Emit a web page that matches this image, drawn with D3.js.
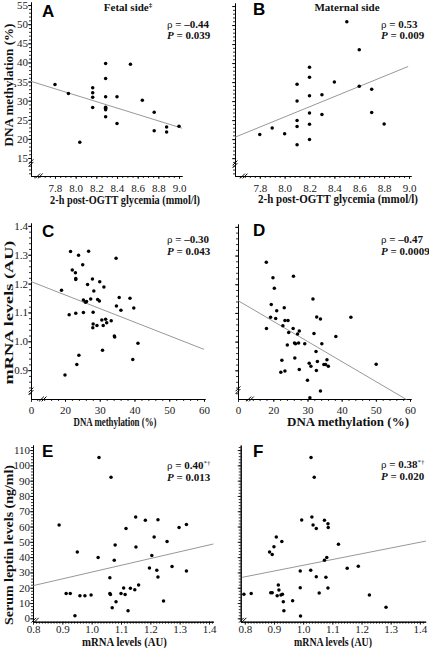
<!DOCTYPE html>
<html><head><meta charset="utf-8">
<script src="https://cdn.jsdelivr.net/npm/d3@7"></script>
<style>
body{margin:0;background:#fff}
svg{display:block}
.domain{stroke:#000;stroke-width:1}
.tick line{stroke:#000;stroke-width:0.8}
.tick text{font-family:'Liberation Serif','Times New Roman',Times,serif;font-size:11px;fill:#1a1a1a}
</style>
</head><body>
<svg id="chart" width="429" height="648"></svg>
<script>
// ---------- DATA ----------
// A: fetal side, 2-h post-OGTT glycemia vs DNA methylation
const glycA = [7.8, 7.93, 8.04, 8.165, 8.165, 8.165, 8.165, 8.29, 8.29, 8.29, 8.29, 8.29, 8.29, 8.29, 8.40, 8.40, 8.53, 8.645, 8.76, 8.76, 8.88, 8.88, 9.0];
const methA = [34.2, 31.9, 19.1, 33.4, 32.1, 30.9, 28.2, 39.7, 35.8, 31.0, 28.3, 28.0, 27.6, 25.8, 31.0, 24.0, 39.5, 30.1, 27.0, 22.1, 23.1, 21.8, 23.3];
const fitAx = [7.568, 9.029], fitAy = [35.05, 22.8];
// B: maternal side
const glycB = [7.8, 7.9, 8.0, 8.1, 8.1, 8.1, 8.1, 8.1, 8.2, 8.2, 8.2, 8.2, 8.2, 8.2, 8.3, 8.3, 8.4, 8.5, 8.6, 8.6, 8.7, 8.7, 8.8];
const methB = [21.2, 22.9, 21.4, 34.4, 30.0, 24.9, 23.3, 18.5, 38.9, 36.3, 31.4, 26.9, 23.9, 19.9, 31.7, 26.5, 35.05, 50.9, 43.5, 33.9, 33.1, 27.0, 24.0];
const fitBx = [7.601, 8.993], fitBy = [20.5, 39.1];
// C: DNA methylation vs mRNA (fetal)
const methC = [19.0, 20.0, 21.2, 21.6, 22.1, 23.0, 23.1, 23.1, 23.1, 23.4, 24.0, 23.9, 25.1, 25.3, 25.3, 25.9, 26.2, 26.5, 26.8, 27.4, 27.9, 28.1, 28.1, 28.0, 28.3, 29.4, 29.2, 29.9, 30.0, 30.6, 31.0, 30.8, 31.2, 31.7, 32.0, 33.3, 34.2, 34.3, 34.7, 34.8, 35.6, 36.1, 38.7, 39.5, 39.8, 41.0];
const mrnaC = [1.177, 0.883, 1.092, 1.311, 1.247, 1.238, 1.218, 1.214, 1.097, 0.920, 0.952, 1.298, 1.265, 1.143, 1.100, 1.135, 1.138, 1.197, 1.312, 1.147, 1.216, 1.101, 1.060, 1.047, 1.174, 1.145, 1.055, 1.140, 1.206, 1.074, 1.055, 0.969, 1.188, 1.076, 1.064, 1.071, 1.018, 1.015, 1.288, 1.122, 1.152, 1.108, 1.149, 0.937, 1.115, 0.993];
const fitCx = [10.22, 60], fitCy = [1.207, 0.972];
// D: DNA methylation vs mRNA (maternal)
const methD = [17.95, 19.9, 20.3, 19.4, 21.0, 19.2, 20.7, 18.0, 23.2, 23.4, 24.3, 22.8, 24.5, 25.9, 25.8, 27.6, 27.1, 24.1, 26.2, 26.5, 27.4, 29.2, 26.3, 22.5, 22.2, 23.4, 27.6, 31.6, 31.9, 32.7, 33.8, 32.5, 34.2, 30.5, 31.0, 32.9, 32.6, 30.0, 33.8, 30.7, 34.8, 35.3, 35.7, 36.1, 38.3, 42.7, 50.1];
const mrnaD = [1.277, 1.223, 1.186, 1.129, 1.108, 1.085, 1.081, 1.046, 1.118, 1.074, 1.074, 1.055, 1.032, 1.228, 1.046, 1.037, 1.027, 0.988, 0.995, 0.993, 0.995, 0.993, 0.943, 0.935, 0.893, 0.898, 0.903, 1.149, 1.028, 1.086, 1.079, 0.966, 0.993, 0.925, 0.914, 0.931, 0.899, 0.865, 0.828, 0.804, 0.920, 0.920, 0.937, 0.914, 1.018, 1.085, 0.921];
const fitDx = [9.67, 59.0], fitDy = [1.143, 0.798];
// E: mRNA vs serum leptin (fetal)
const mrnaE = [0.889, 0.913, 0.927, 0.943, 0.951, 0.960, 0.977, 0.998, 1.022, 1.025, 1.062, 1.062, 1.064, 1.066, 1.070, 1.077, 1.080, 1.083, 1.100, 1.109, 1.114, 1.117, 1.124, 1.132, 1.147, 1.150, 1.151, 1.160, 1.183, 1.197, 1.205, 1.213, 1.222, 1.226, 1.226, 1.245, 1.257, 1.274, 1.298, 1.323, 1.323];
const leptinE = [61.0, 16.3, 16.3, 1.7, 43.4, 14.8, 14.8, 15.3, 39.7, 105.2, 26.6, 16.3, 15.5, 92.2, 7.0, 37.9, 47.9, 10.9, 16.3, 19.8, 15.5, 58.8, 5.0, 19.6, 18.7, 66.2, 46.6, 21.8, 64.1, 32.9, 41.0, 53.2, 31.4, 27.0, 64.5, 11.3, 50.3, 33.8, 59.3, 30.9, 61.4];
const fitEx = [0.801, 1.415], fitEy = [21.4, 48.6];
// F: mRNA vs serum leptin (maternal)
const mrnaF = [0.797, 0.822, 0.889, 0.894, 0.885, 0.894, 0.900, 0.908, 0.927, 0.911, 0.915, 0.917, 0.924, 0.929, 0.932, 0.934, 0.964, 0.991, 0.990, 0.990, 0.995, 1.027, 1.030, 1.034, 1.026, 1.038, 1.045, 1.045, 1.055, 1.073, 1.073, 1.081, 1.078, 1.085, 1.086, 1.085, 1.121, 1.151, 1.189, 1.227, 1.284];
const leptinF = [15.7, 16.3, 16.8, 16.8, 43.4, 41.8, 46.8, 53.2, 50.3, 14.8, 21.8, 18.5, 15.3, 15.7, 10.9, 5.0, 11.5, 1.5, 20.0, 30.9, 64.3, 105.2, 66.2, 61.0, 31.4, 92.2, 58.8, 27.2, 16.6, 64.1, 37.9, 39.7, 26.8, 61.9, 59.3, 19.8, 48.4, 32.7, 34.0, 15.3, 7.2];
const fitFx = [0.791, 1.421], fitFy = [26.8, 50.5];

// tick labels
const glycTicks = [7.8, 8.0, 8.2, 8.4, 8.6, 8.8, 9.0];
const methYTicks = [15, 20, 25, 30, 35, 40, 45, 50, 55];
const methXTicks = [20, 30, 40, 50, 60];
const methOriginLabel = "0";
const mrnaYTicks = [0.9, 1.0, 1.1, 1.2, 1.3, 1.4];
const mrnaXTicks = [0.8, 0.9, 1.0, 1.1, 1.2, 1.3, 1.4];
const leptinTicks = [0, 10, 20, 30, 40, 50, 60, 70, 80, 90, 100, 110];

// annotation texts
const panelLetters = ["A", "B", "C", "D", "E", "F"];
const rhoValues = ["\u20130.44", "0.53", "\u20130.30", "\u20130.47", "0.40", "0.38"];
const rhoMarks = ["", "", "", "", "*\u2020", "*\u2020"];
const pValues = ["0.039", "0.009", "0.043", "0.0009", "0.013", "0.020"];
const sideTitles = ["Fetal side", "Maternal side"];
const sideMarks = ["\u2021", ""];
const xTitles = ["2-h post-OGTT glycemia (mmol/l)", "2-h post-OGTT glycemia (mmol/l)", "DNA methylation (%)", "DNA methylation (%)", "mRNA levels (AU)", "mRNA levels (AU)"];
const yTitles = ["DNA methylation (%)", "mRNA levels (AU)", "Serum leptin levels (ng/ml)"];

// ---------- DRAW ----------
const SERIF = "'Liberation Serif','Times New Roman',Times,serif";
const SANS = "'Liberation Sans',Arial,Helvetica,sans-serif";
const svg = d3.select("#chart");
const fmt1 = d3.format(".1f");
function steps(a, b, s) { const o = []; for (let v = a; v <= b + 1e-9; v += s) o.push(+v.toFixed(5)); return o; }

// text squeezed/stretched horizontally to a target length (the figure's titles are condensed)
function fittedText(cx, cy, str, len, size, rot) {
  const t = svg.append("text").attr("text-anchor", "middle")
    .attr("font-family", SERIF).attr("font-weight", "bold")
    .attr("font-size", size).attr("fill", "#111").text(str);
  const w = t.node().getComputedTextLength();
  const sx = len / w;
  t.attr("transform", `translate(${cx},${cy})${rot ? " rotate(-90)" : ""} scale(${sx},1)`);
  return t;
}

const panels = [
  {xD:[7.568, 9.029], xR:[31,182], yD:[10.3,55.8], yR:[176,2], xs:glycA, ys:methA, fx:fitAx, fy:fitAy,
   xT:glycTicks, xL:glycTicks.map(fmt1), xMin:steps(7.6,9.0,0.05), xLY:16,
   yT:methYTicks, yL:methYTicks.map(String), yMin:steps(11,55,1),
   let:[42,17], st:[167,28,39], xt:[125,204,150,12], brk:{y:13.7, x:7.645}},
  {xD:[7.601, 9.016], xR:[235,411], yD:[10.3,55.8], yR:[176,3], xs:glycB, ys:methB, fx:fitBx, fy:fitBy,
   xT:glycTicks, xL:glycTicks.map(fmt1), xMin:steps(7.64,9.0,0.04), xLY:16,
   yT:methYTicks, yL:null, yMin:steps(11,55,1),
   let:[253,15], st:[381,28,39], xt:[338,203,160,12], brk:{y:13.4, x:7.672}},
  {xD:[10.22, 60.29], xR:[31,205], yD:[0.8,1.41], yR:[399,223], xs:methC, ys:mrnaC, fx:fitCx, fy:fitCy,
   xT:null, xL:null, xMin:steps(12,60,2), xLY:14.5,
   yT:mrnaYTicks, yL:mrnaYTicks.map(fmt1), yMin:steps(0.82,1.4,0.02),
   let:[42,237], st:[167,243,255], xt:[115,425.5,83,12], brk:{y:0.827, x:13.6}},
  {xD:[9.67, 60.29], xR:[238,411], yD:[0.8,1.41], yR:[399,224], xs:methD, ys:mrnaD, fx:fitDx, fy:fitDy,
   xT:null, xL:null, xMin:steps(12,60,2), xLY:14.5,
   yT:mrnaYTicks, yL:null, yMin:steps(0.82,1.4,0.02),
   let:[253,236], st:[381,243,255], xt:[348,425.5,122,12], brk:{y:0.831, x:13.2}},
  {xD:[0.8, 1.415], xR:[33,213.4], yD:[-2.2,113.3], yR:[621.7,445], xs:mrnaE, ys:leptinE, fx:fitEx, fy:fitEy,
   xT:mrnaXTicks, xL:mrnaXTicks.map(fmt1), xMin:steps(0.81,1.41,0.01), xLY:11,
   yT:leptinTicks, yL:leptinTicks.map(String), yMin:steps(0,112,2),
   let:[42,457], st:[167,469,481], xt:[124.5,646,85,11.5], brk:{corner:true}},
  {xD:[0.786, 1.42], xR:[240.7,425.7], yD:[-2.2,113.3], yR:[621.7,445], xs:mrnaF, ys:leptinF, fx:fitFx, fy:fitFy,
   xT:mrnaXTicks, xL:mrnaXTicks.map(fmt1), xMin:steps(0.8,1.41,0.01), xLY:11,
   yT:leptinTicks, yL:null, yMin:steps(0,112,2),
   let:[253,457], st:[381,468,480], xt:[333,646,78,11.5], brk:{corner:true}}
];

panels.forEach((p, i) => {
  const g = svg.append("g");
  const x = d3.scaleLinear().domain(p.xD).range(p.xR);
  const y = d3.scaleLinear().domain(p.yD).range(p.yR);
  const ax = p.xR[0], ay = p.yR[0];

  // minor ticks
  g.append("g").attr("transform", `translate(0,${ay})`)
    .call(d3.axisBottom(x).tickValues(p.xMin).tickSize(2).tickSizeOuter(0).tickFormat(""));
  g.append("g").attr("transform", `translate(${ax},0)`)
    .call(d3.axisLeft(y).tickValues(p.yMin).tickSize(2).tickSizeOuter(0).tickFormat(""));

  // major x ticks
  const xPos = p.xT ? p.xT : [p.xD[0]].concat(methXTicks);
  const xLab = p.xL ? p.xL : [methOriginLabel].concat(methXTicks.map(String));
  const xa = g.append("g").attr("transform", `translate(0,${ay})`)
    .call(d3.axisBottom(x).tickValues(xPos).tickSize(3).tickSizeOuter(0).tickFormat((d, k) => xLab[k]));
  xa.selectAll("text").attr("dy", null).attr("y", p.xLY);

  // major y ticks
  g.append("g").attr("transform", `translate(${ax},0)`)
    .call(d3.axisLeft(y).tickValues(p.yT).tickSize(3).tickPadding(0).tickSizeOuter(0)
      .tickFormat((d, k) => p.yL ? p.yL[k] : ""));

  // axis break marks
  const brk = (cx, cy, vertical) => {
    const bg = g.append("g");
    [-1.3, 1.3].forEach(o => {
      const dx = vertical ? 0 : o, dy = vertical ? o : 0;
      bg.append("line")
        .attr("x1", cx + dx - 2.4).attr("y1", cy + dy + 2.4)
        .attr("x2", cx + dx + 2.4).attr("y2", cy + dy - 2.4)
        .attr("stroke", "#000").attr("stroke-width", 1);
    });
  };
  if (p.brk.corner) {
    brk(ax + 2, ay - 1.5, false);
  } else {
    brk(ax, y(p.brk.y), true);
    brk(x(p.brk.x), ay, false);
  }

  // regression line
  g.append("line")
    .attr("x1", x(p.fx[0])).attr("y1", y(p.fy[0]))
    .attr("x2", x(p.fx[1])).attr("y2", y(p.fy[1]))
    .attr("stroke", "#8c8c8c").attr("stroke-width", 0.9);

  // points
  g.selectAll("circle.pt").data(d3.zip(p.xs, p.ys)).join("circle")
    .attr("class", "pt")
    .attr("cx", d => x(d[0])).attr("cy", d => y(d[1]))
    .attr("r", 1.75).attr("fill", "#000");

  // panel letter
  g.append("text").attr("x", p.let[0]).attr("y", p.let[1])
    .attr("font-family", SANS).attr("font-weight", "bold").attr("font-size", 17)
    .text(panelLetters[i]);

  // stats
  const t1 = g.append("text").attr("x", p.st[0]).attr("y", p.st[1])
    .attr("font-family", SERIF).attr("font-size", 11).attr("fill", "#111");
  t1.append("tspan").text("\u03C1");
  t1.append("tspan").attr("font-weight", "bold").text(" = " + rhoValues[i]);
  if (rhoMarks[i]) t1.append("tspan").attr("font-size", 7).attr("dy", -4).text(rhoMarks[i]);
  const t2 = g.append("text").attr("x", p.st[0]).attr("y", p.st[2])
    .attr("font-family", SERIF).attr("font-size", 11).attr("font-weight", "bold").attr("fill", "#111");
  t2.append("tspan").attr("font-style", "italic").text("P");
  t2.append("tspan").text(" = " + pValues[i]);

  // x title
  fittedText(p.xt[0], p.xt[1], xTitles[i], p.xt[2], p.xt[3], false);
});

// column headers
[[128, 10.7], [347, 10.5]].forEach((pos, k) => {
  const t = svg.append("text").attr("x", pos[0]).attr("y", pos[1]).attr("text-anchor", "middle")
    .attr("font-family", SERIF).attr("font-weight", "bold").attr("font-size", 11).attr("fill", "#111");
  t.append("tspan").text(sideTitles[k]);
  if (sideMarks[k]) t.append("tspan").attr("font-size", 7).attr("dy", -4).text(sideMarks[k]);
});

// y titles (rotated)
[[13, 85, 123], [12.5, 312.5, 144], [12.5, 545, 160]].forEach((pos, k) => {
  fittedText(pos[0], pos[1], yTitles[k], pos[2], 12.5, true);
});
</script>
</body></html>
